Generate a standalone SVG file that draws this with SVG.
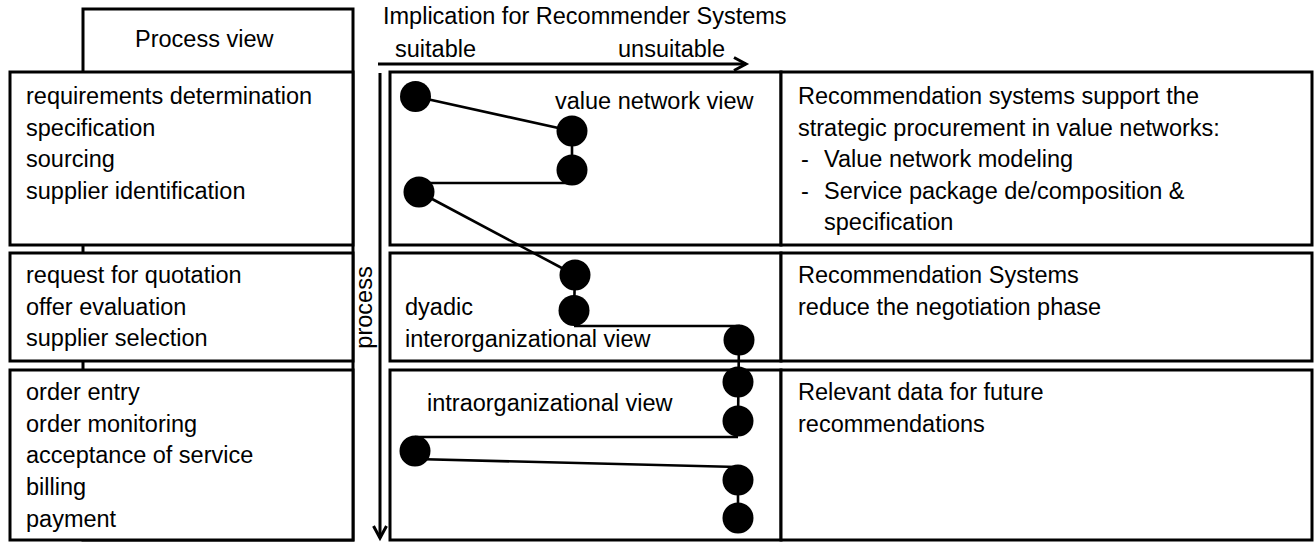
<svg xmlns="http://www.w3.org/2000/svg" width="1315" height="542" viewBox="0 0 1315 542">
<defs>
<style>
.box{fill:#fff;stroke:#000;stroke-width:3}
.t{font-family:"Liberation Sans",Arial,sans-serif;font-size:23.5px;fill:#000}
.c{stroke:#000;stroke-width:2.6;fill:none}
.d{fill:#000}
.ax{stroke:#000;stroke-width:3;fill:none}
</style>
<marker id="ah" markerUnits="userSpaceOnUse" markerWidth="16" markerHeight="16" refX="13" refY="7" orient="auto" overflow="visible">
<path d="M1,0.5 L13,7 L1,13.5" fill="none" stroke="#000" stroke-width="3"/>
</marker>
</defs>
<rect width="1315" height="542" fill="#fff"/>

<g id="process-view">
<rect class="box" x="83" y="9" width="270" height="531"/>
<text class="t" x="135" y="47">Process view</text>
</g>

<g id="left-1">
<rect class="box" x="10" y="72" width="343" height="173"/>
<text class="t"><tspan x="26" y="104">requirements determination</tspan><tspan x="26" y="135.5">specification</tspan><tspan x="26" y="167">sourcing</tspan><tspan x="26" y="198.5">supplier identification</tspan></text>
</g>
<g id="left-2">
<rect class="box" x="10" y="253" width="343" height="108"/>
<text class="t"><tspan x="26" y="283">request for quotation</tspan><tspan x="26" y="314.5">offer evaluation</tspan><tspan x="26" y="346">supplier selection</tspan></text>
</g>
<g id="left-3">
<rect class="box" x="10" y="370" width="343" height="170"/>
<text class="t"><tspan x="26" y="400">order entry</tspan><tspan x="26" y="431.7">order monitoring</tspan><tspan x="26" y="463.4">acceptance of service</tspan><tspan x="26" y="495">billing</tspan><tspan x="26" y="526.7">payment</tspan></text>
</g>

<g id="header">
<text class="t" x="383" y="24">Implication for Recommender Systems</text>
<text class="t" x="395" y="57">suitable</text>
<text class="t" x="618" y="57">unsuitable</text>
</g>

<g id="axes">
<line class="ax" x1="378" y1="64" x2="746" y2="64" marker-end="url(#ah)"/>
<line class="ax" x1="380" y1="73" x2="380" y2="538" marker-end="url(#ah)"/>
<text class="t" transform="translate(372,307.5) rotate(-90)" text-anchor="middle">process</text>
</g>

<g id="mid-1">
<rect class="box" x="390" y="72" width="391" height="173"/>
<text class="t" x="555" y="109">value network view</text>
</g>
<g id="mid-2">
<rect class="box" x="390" y="253" width="391" height="108"/>
<text class="t"><tspan x="405" y="315">dyadic</tspan><tspan x="405" y="347">interorganizational view</tspan></text>
</g>
<g id="mid-3">
<rect class="box" x="390" y="370" width="391" height="170"/>
<text class="t" x="427" y="410.5">intraorganizational view</text>
</g>

<g id="right-1">
<rect class="box" x="781" y="72" width="531" height="173"/>
<text class="t"><tspan x="798" y="104">Recommendation systems support the</tspan><tspan x="798" y="135.5">strategic procurement in value networks:</tspan><tspan x="801" y="167">-</tspan><tspan x="824" y="167">Value network modeling</tspan><tspan x="801" y="198.5">-</tspan><tspan x="824" y="198.5">Service package de/composition &amp;</tspan><tspan x="824" y="230">specification</tspan></text>
</g>
<g id="right-2">
<rect class="box" x="781" y="253" width="531" height="108"/>
<text class="t"><tspan x="798" y="283">Recommendation Systems</tspan><tspan x="798" y="314.5">reduce the negotiation phase</tspan></text>
</g>
<g id="right-3">
<rect class="box" x="781" y="370" width="531" height="170"/>
<text class="t"><tspan x="798" y="400">Relevant data for future</tspan><tspan x="798" y="431.7">recommendations</tspan></text>
</g>

<g id="connectors">
<line class="c" x1="415.5" y1="96.5" x2="572" y2="131"/>
<line class="c" x1="572" y1="131" x2="572" y2="170"/>
<line class="c" x1="419" y1="183" x2="572" y2="183"/>
<line class="c" x1="419" y1="192" x2="575" y2="275"/>
<line class="c" x1="575" y1="275" x2="574" y2="310"/>
<line class="c" x1="574" y1="326" x2="740" y2="326"/>
<line class="c" x1="739" y1="340" x2="738" y2="421"/>
<line class="c" x1="415" y1="437" x2="738" y2="437"/>
<line class="c" x1="415" y1="459" x2="738" y2="467"/>
<line class="c" x1="738" y1="480" x2="738" y2="518"/>
</g>

<g id="dots">
<circle class="d" cx="415.5" cy="96.5" r="15.5"/>
<circle class="d" cx="572" cy="131" r="15.5"/>
<circle class="d" cx="572" cy="170" r="15.5"/>
<circle class="d" cx="419" cy="192" r="15.5"/>
<circle class="d" cx="575" cy="275" r="15.5"/>
<circle class="d" cx="574" cy="310.5" r="15.5"/>
<circle class="d" cx="739" cy="340" r="15.5"/>
<circle class="d" cx="738" cy="382" r="15.5"/>
<circle class="d" cx="738" cy="421" r="15.5"/>
<circle class="d" cx="415" cy="451" r="15.5"/>
<circle class="d" cx="738" cy="480" r="15.5"/>
<circle class="d" cx="738" cy="518" r="15.5"/>
</g>
</svg>
